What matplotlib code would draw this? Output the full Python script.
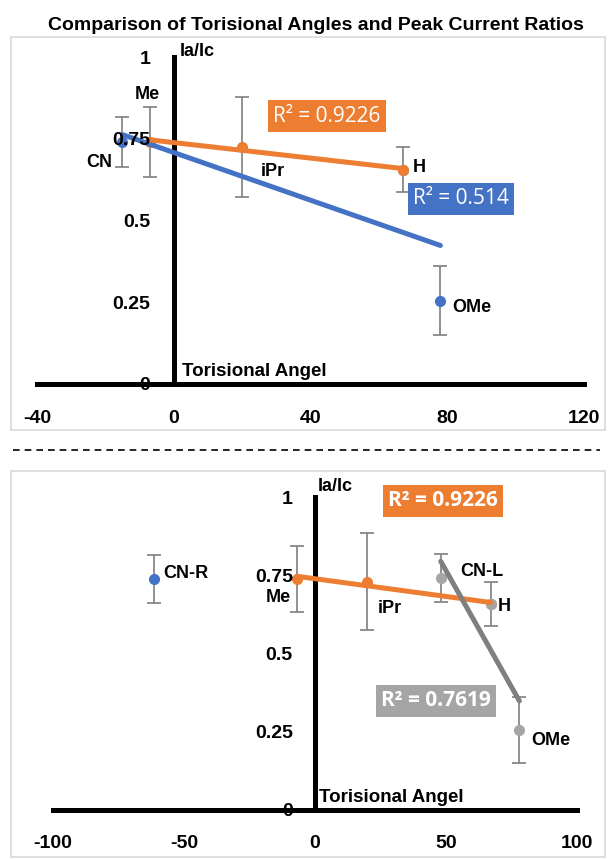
import matplotlib.pyplot as plt
import numpy as np
from matplotlib.patches import Rectangle
from matplotlib.lines import Line2D

plt.rcParams['font.family'] = ['Liberation Sans', 'DejaVu Sans']

BLUE = '#4472C4'
ORANGE = '#ED7D31'
GRAY = '#A5A5A5'
GRAY_LINE = '#7F7F7F'
ERR = '#7F7F7F'

title = 'Comparison of Torisional Angles and Peak Current Ratios'

# top chart
top_names = ['CN', 'Me', 'iPr', 'H', 'OMe']
top_angle = [-15, -7, 20, 67, 78]
top_ratio = [0.74, 0.74, 0.725, 0.655, 0.255]
top_err = [0.077, 0.107, 0.153, 0.069, 0.106]
top_blue = ['CN', 'H', 'OMe']
top_orange = ['Me', 'iPr', 'H']
top_r2 = ['R² = 0.514', 'R² = 0.9226']
top_xticks = [-40, 0, 40, 80, 120]

# bottom chart
bot_names = ['CN-R', 'Me', 'iPr', 'CN-L', 'H', 'OMe']
bot_angle = [-61.5, -7, 20, 48, 67, 78]
bot_ratio = [0.738, 0.738, 0.73, 0.741, 0.658, 0.256]
bot_err = [0.077, 0.107, 0.155, 0.077, 0.069, 0.106]
bot_blue = ['CN-R']
bot_orange = ['Me', 'iPr', 'H']
bot_gray = ['CN-L', 'H', 'OMe']
bot_r2 = ['R² = 0.9226', 'R² = 0.7619']
bot_xticks = [-100, -50, 0, 50, 100]

yticks = [0, 0.25, 0.5, 0.75, 1]
ytick_labels = ['0', '0.25', '0.5', '0.75', '1']

W, H = 609, 860
fig = plt.figure(figsize=(W / 100, H / 100), dpi=100)


def px(x, y):
    # figure pixel (from top-left) -> figure fraction
    return x / W, 1 - y / H


def setup_axis(ax, xlim, xticks, xpad, ypad):
    ax.set_xlim(*xlim)
    ax.set_ylim(0, 1)
    for s in ['top', 'right']:
        ax.spines[s].set_visible(False)
    ax.spines['left'].set_position(('data', 0))
    ax.spines['left'].set_bounds(0, 1)
    ax.spines['left'].set_linewidth(3.6)
    ax.spines['bottom'].set_linewidth(3.6)
    ax.set_xticks(xticks)
    ax.set_xticklabels([str(t) for t in xticks])
    ax.set_yticks(yticks)
    ax.set_yticklabels(ytick_labels)
    ax.tick_params(axis='x', length=0, labelsize=14, pad=xpad)
    ax.tick_params(axis='y', length=0, labelsize=14, pad=ypad)
    for lab in ax.get_xticklabels() + ax.get_yticklabels():
        lab.set_fontweight('bold')
    ax.yaxis.set_zorder(5)
    ax.patch.set_visible(False)


def draw_points(ax, names, xs, ys, errs, series, offsets):
    lookup = dict(zip(names, zip(xs, ys, errs)))
    ax.errorbar(xs, ys, yerr=errs, fmt='none', ecolor=ERR, elinewidth=1.2,
                capsize=5, capthick=1.2, zorder=2)
    for members, color in series:
        sx = [lookup[n][0] for n in members]
        sy = [lookup[n][1] for n in members]
        ax.plot(sx, sy, 'o', color=color, ms=7, zorder=3, clip_on=False)
    for members, color in series:
        if len(members) < 2:
            continue
        sx = np.array([lookup[n][0] for n in members])
        sy = np.array([lookup[n][1] for n in members])
        k, b = np.polyfit(sx, sy, 1)
        xx = np.array([sx.min(), sx.max()])
        ax.plot(xx, k * xx + b, color=color if color != GRAY else GRAY_LINE,
                lw=3.6, solid_capstyle='round', zorder=4)
    for n in names:
        dx, dy, ha = offsets[n]
        ax.annotate(n, xy=lookup[n][:2], xytext=(dx, dy), textcoords='offset pixels',
                    ha=ha, va='center', fontsize=13, fontweight='bold', zorder=6)


# ---- top chart ----
ax1 = fig.add_axes([37 / W, (H - 384) / H, 547 / W, 327 / H])
setup_axis(ax1, (-40, 120), top_xticks, 18.5, 17)
top_offsets = {'CN': (-23, -20, 'center'), 'Me': (-3, 48, 'center'),
               'iPr': (31, -25, 'center'), 'H': (16, 2, 'center'),
               'OMe': (31, -7, 'center')}
draw_points(ax1, top_names, top_angle, top_ratio, top_err,
            [(top_blue, BLUE), (top_orange, ORANGE)], top_offsets)
ax1.annotate('Ia/Ic', xy=(0, 1), xytext=(6, 14), textcoords='offset pixels',
             ha='left', va='top', fontsize=13, fontweight='bold')
ax1.annotate('Torisional Angel', xy=(0, 0), xytext=(8, 4), textcoords='offset pixels',
             ha='left', va='bottom', fontsize=13.5, fontweight='bold')

# ---- bottom chart ----
ax2 = fig.add_axes([53 / W, (H - 810) / H, 524 / W, 313 / H])
setup_axis(ax2, (-100, 100), bot_xticks, 18, 16)
bot_offsets = {'CN-R': (9, 6, 'left'), 'Me': (-18, -18, 'center'),
               'iPr': (22, -27, 'center'), 'CN-L': (41, 7, 'center'),
               'H': (14, -2, 'center'), 'OMe': (31, -11, 'center')}
draw_points(ax2, bot_names, bot_angle, bot_ratio, bot_err,
            [(bot_blue, BLUE), (bot_orange, ORANGE), (bot_gray, GRAY)], bot_offsets)
ax2.annotate('Ia/Ic', xy=(0, 1), xytext=(3, 19), textcoords='offset pixels',
             ha='left', va='top', fontsize=13, fontweight='bold')
ax2.annotate('Torisional Angel', xy=(0, 0), xytext=(4, 4), textcoords='offset pixels',
             ha='left', va='bottom', fontsize=13.5, fontweight='bold')

# R squared boxes
r2_boxes = [
    (top_r2[1], ORANGE, (327, 116), 'normal'),
    (top_r2[0], BLUE, (461, 199), 'normal'),
    (bot_r2[0], ORANGE, (443, 501), 'bold'),
    (bot_r2[1], GRAY, (436, 701), 'bold'),
]
for txt, col, (x, y), wt in r2_boxes:
    fx, fy = px(x, y)
    fig.text(fx, fy, txt, ha='center', va='center', color='white', fontsize=15,
             fontweight=wt, family=['Open Sans', 'DejaVu Sans'],
             bbox=dict(boxstyle='square,pad=0.25', fc=col, ec='none'))

# title, frames and separator
tx, ty = px(316, 26)
fig.text(tx, ty, title, ha='center', va='center', fontsize=14, fontweight='bold')
fig.add_artist(Rectangle(px(11, 430), 594 / W, 393 / H, transform=fig.transFigure,
                         fill=False, ec='#D9D9D9', lw=1.2))
fig.add_artist(Rectangle(px(11, 857), 594 / W, 386 / H, transform=fig.transFigure,
                         fill=False, ec='#D9D9D9', lw=1.2))
x0, y0 = px(13, 450)
x1, _ = px(600, 450)
fig.add_artist(Line2D([x0, x1], [y0, y0], transform=fig.transFigure, color='black',
                      lw=1.2, dashes=(4, 3)))

fig.savefig('out.png', dpi=100)
